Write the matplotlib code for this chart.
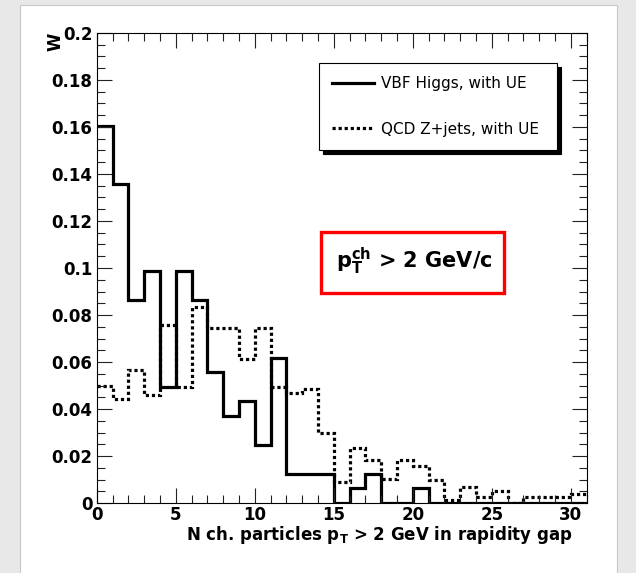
#!/usr/bin/python3
import matplotlib
matplotlib.use("Agg")
import matplotlib.pyplot as plt
from matplotlib.patches import Rectangle
from matplotlib.ticker import MultipleLocator, FuncFormatter
import numpy as np

# Bold sans everywhere, including the math bits (p_T, ch)
plt.rcParams['font.family'] = ['DejaVu Sans']
plt.rcParams['mathtext.fontset'] = 'custom'
plt.rcParams['mathtext.rm'] = 'DejaVu Sans:bold'
plt.rcParams['mathtext.it'] = 'DejaVu Sans:bold'
plt.rcParams['mathtext.bf'] = 'DejaVu Sans:bold'

# Charged-particle multiplicity in the rapidity gap, unit-width bins 0..31
bin_edges = np.arange(0, 32)
vbf_higgs = [0.1605, 0.1358, 0.0864, 0.0988, 0.0494, 0.0988, 0.0864, 0.0556,
             0.0370, 0.0432, 0.0247, 0.0617, 0.0123, 0.0123, 0.0123, 0.0,
             0.0062, 0.0123, 0.0, 0.0, 0.0062, 0.0, 0.0, 0.0, 0.0, 0.0,
             0.0, 0.0, 0.0, 0.0, 0.0]
qcd_zjets = [0.0498, 0.0443, 0.0565, 0.0458, 0.0757, 0.0495, 0.0835, 0.0746,
             0.0746, 0.0611, 0.0746, 0.0495, 0.0468, 0.0484, 0.0299, 0.0091,
             0.0235, 0.0183, 0.0101, 0.0184, 0.0158, 0.0100, 0.0012, 0.0066,
             0.0026, 0.0050, 0.0, 0.0026, 0.0026, 0.0026, 0.0038]
labels = ["VBF Higgs, with UE", "QCD Z+jets, with UE"]

fig = plt.figure(figsize=(6.36, 5.73), dpi=100, facecolor='#e8e8e8')
# white canvas pad behind the frame
fig.patches.append(Rectangle((20 / 636, -0.01), 597 / 636, 1 - 5 / 573 + 0.01,
                             transform=fig.transFigure, facecolor='white',
                             edgecolor='#c8c8c8', linewidth=0.8, zorder=-5))
ax = fig.add_axes([96.7 / 636, 1 - 503 / 573, 490 / 636, 470 / 573])
ax.set_facecolor('white')

ax.stairs(vbf_higgs, bin_edges, color='black', linewidth=2.3, baseline=None,
          label=labels[0])
ax.stairs(qcd_zjets, bin_edges, color='black', linewidth=2.3, baseline=None,
          linestyle=(0, (1, 0.9)), label=labels[1])

ax.set_xlim(0, 31)
ax.set_ylim(0, 0.2)
ax.xaxis.set_major_locator(MultipleLocator(5))
ax.xaxis.set_minor_locator(MultipleLocator(1))
ax.yaxis.set_major_locator(MultipleLocator(0.02))
ax.yaxis.set_minor_locator(MultipleLocator(0.005))
ax.yaxis.set_major_formatter(FuncFormatter(lambda v, p: '{:g}'.format(round(v, 3))))
ax.tick_params(which='both', direction='in', top=True, right=True,
               width=0.8, color='#222222')
ax.tick_params(which='major', length=10.5, labelsize=12)
ax.tick_params(axis='x', which='major', pad=2)
ax.tick_params(axis='y', which='major', pad=3)
ax.tick_params(which='minor', length=5.5)
for lab in ax.get_xticklabels() + ax.get_yticklabels():
    lab.set_fontweight('bold')
for sp in ax.spines.values():
    sp.set_linewidth(0.8)

ax.set_xlabel(r'N ch. particles p$_{T}$ > 2 GeV in rapidity gap',
              fontsize=12, fontweight='bold', ha='right', va='top')
ax.xaxis.set_label_coords(1 - 14 / 490, -21 / 470)
ax.set_ylabel('W', fontsize=12, fontweight='bold', loc='top')
ax.yaxis.set_label_coords(-32 / 490, 1.0)

leg = ax.legend(loc='upper left', bbox_to_anchor=(0.453, 0.936, 0.487, 0.0),
                mode='expand', borderaxespad=0, fancybox=False,
                shadow={'ox': 3, 'oy': -3, 'color': 'black', 'alpha': 1.0},
                edgecolor='black', framealpha=1, fontsize=11,
                handlelength=2.8, handletextpad=0.4, labelspacing=2.0,
                borderpad=0.85)
leg.get_frame().set_linewidth(0.8)

# cut annotation in a red box
ax.add_patch(Rectangle((0.457, 0.4474), 0.374, 0.1298, transform=ax.transAxes,
                       facecolor='white', edgecolor='#ff0000', linewidth=2.4,
                       zorder=4))
ax.text(0.648, 0.513, r'p$_{T}^{ch}$ > 2 GeV/c', fontsize=15, fontweight='bold',
        ha='center', va='center', transform=ax.transAxes, zorder=5)

plt.savefig('out.png', dpi=100, facecolor=fig.get_facecolor())
